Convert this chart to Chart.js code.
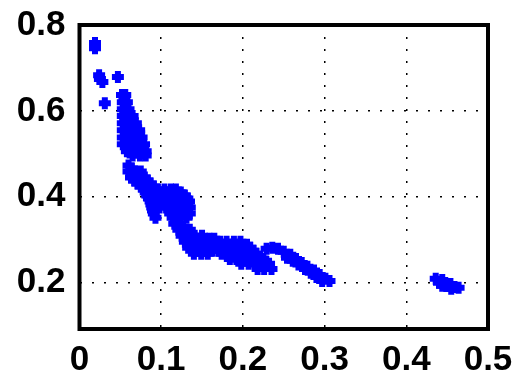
<!DOCTYPE html>
<html>
<head>
<meta charset="utf-8">
<script src="https://cdn.jsdelivr.net/npm/chart.js@4/dist/chart.umd.min.js"></script>
<style>
  html, body { margin: 0; padding: 0; background: #fff; }
  #wrap { width: 517px; height: 383px; }
</style>
</head>
<body>
<div id="wrap"><canvas id="chart"></canvas></div>
<script>
// axis ticks
const xTicks = [0, 0.1, 0.2, 0.3, 0.4, 0.5];
const yTicks = [0.2, 0.4, 0.6, 0.8];

// scattered points, [x, y]
const topPoints = [
  [0.019, 0.758], [0.019, 0.746],
  [0.024, 0.683], [0.025, 0.674], [0.028, 0.667],
  [0.047, 0.679],
  [0.031, 0.618],
];

const steepBand = [
  [0.052, 0.637], [0.056, 0.637], [0.055, 0.628],
  [0.053, 0.620], [0.058, 0.620],
  [0.053, 0.604], [0.060, 0.604], [0.056, 0.597],
  [0.053, 0.588], [0.059, 0.588], [0.065, 0.588],
  [0.056, 0.578], [0.064, 0.578],
  [0.053, 0.571], [0.060, 0.571], [0.069, 0.571],
  [0.057, 0.562], [0.066, 0.562],
  [0.053, 0.555], [0.062, 0.555], [0.073, 0.555],
  [0.057, 0.548], [0.066, 0.548], [0.073, 0.548],
  [0.053, 0.538], [0.062, 0.538], [0.069, 0.538], [0.076, 0.538],
  [0.057, 0.531], [0.066, 0.531], [0.074, 0.531],
  [0.053, 0.522], [0.062, 0.522], [0.070, 0.522], [0.079, 0.522],
  [0.060, 0.513], [0.070, 0.513], [0.078, 0.513],
  [0.058, 0.506], [0.067, 0.506], [0.075, 0.506], [0.081, 0.506],
  [0.065, 0.496], [0.074, 0.496], [0.081, 0.496],
];

const kneeBand = [
  [0.060, 0.473], [0.064, 0.466],
  [0.060, 0.459], [0.068, 0.459], [0.075, 0.459],
  [0.064, 0.452], [0.072, 0.452],
  [0.063, 0.445], [0.071, 0.445], [0.080, 0.445],
  [0.067, 0.438], [0.075, 0.438], [0.083, 0.438],
  [0.071, 0.431], [0.079, 0.431], [0.087, 0.431],
  [0.075, 0.424], [0.083, 0.424], [0.091, 0.424],
  [0.079, 0.417], [0.087, 0.417], [0.096, 0.417], [0.104, 0.417], [0.112, 0.417], [0.118, 0.417],
  [0.081, 0.410], [0.090, 0.410], [0.099, 0.410], [0.108, 0.410], [0.116, 0.410], [0.124, 0.410],
  [0.083, 0.403], [0.092, 0.403], [0.100, 0.403], [0.109, 0.403], [0.117, 0.403], [0.126, 0.403], [0.129, 0.403],
  [0.085, 0.396], [0.094, 0.396], [0.102, 0.396], [0.111, 0.396], [0.119, 0.396], [0.127, 0.396], [0.132, 0.396],
  [0.087, 0.389], [0.096, 0.389], [0.104, 0.389], [0.112, 0.389], [0.121, 0.389], [0.129, 0.389], [0.134, 0.389],
  [0.088, 0.382], [0.097, 0.382], [0.106, 0.382], [0.115, 0.382], [0.124, 0.382], [0.132, 0.382],
  [0.089, 0.375], [0.098, 0.375], [0.106, 0.375], [0.115, 0.375], [0.123, 0.375], [0.132, 0.375], [0.135, 0.375],
  [0.090, 0.368], [0.113, 0.368], [0.122, 0.368], [0.131, 0.368],
  [0.091, 0.361], [0.111, 0.361], [0.120, 0.361], [0.128, 0.361], [0.135, 0.361],
  [0.093, 0.351], [0.114, 0.351], [0.122, 0.351], [0.131, 0.351],
];

const lowerBand = [
  [0.116, 0.337], [0.123, 0.337],
  [0.121, 0.323], [0.128, 0.323], [0.135, 0.323],
  [0.125, 0.309], [0.133, 0.309], [0.141, 0.309], [0.150, 0.309],
  [0.133, 0.302], [0.142, 0.302], [0.150, 0.302], [0.159, 0.302], [0.165, 0.302],
  [0.129, 0.295], [0.138, 0.295], [0.146, 0.295], [0.155, 0.295], [0.163, 0.295],
  [0.172, 0.295], [0.180, 0.295], [0.189, 0.295], [0.197, 0.295],
  [0.137, 0.288], [0.146, 0.288], [0.154, 0.288], [0.163, 0.288], [0.171, 0.288],
  [0.180, 0.288], [0.188, 0.288], [0.197, 0.288], [0.205, 0.288],
  [0.133, 0.281], [0.141, 0.281], [0.150, 0.281], [0.158, 0.281], [0.167, 0.281],
  [0.175, 0.281], [0.184, 0.281], [0.192, 0.281], [0.201, 0.281], [0.209, 0.281],
  [0.145, 0.274], [0.154, 0.274], [0.163, 0.274], [0.171, 0.274], [0.179, 0.274],
  [0.188, 0.274], [0.196, 0.274], [0.205, 0.274], [0.213, 0.274],
  [0.140, 0.267], [0.149, 0.267], [0.157, 0.267], [0.174, 0.267], [0.183, 0.267],
  [0.191, 0.267], [0.200, 0.267], [0.208, 0.267], [0.216, 0.267],
  [0.188, 0.260], [0.196, 0.260], [0.205, 0.260], [0.213, 0.260], [0.221, 0.260],
  [0.184, 0.255], [0.192, 0.255], [0.201, 0.255], [0.209, 0.255], [0.218, 0.255], [0.225, 0.255],
  [0.211, 0.249], [0.220, 0.249], [0.228, 0.249],
  [0.198, 0.244], [0.207, 0.244], [0.215, 0.244], [0.224, 0.244], [0.232, 0.244],
  [0.218, 0.232], [0.226, 0.232], [0.235, 0.232],
];

const upperTail = [
  [0.229, 0.279], [0.236, 0.281], [0.243, 0.279], [0.250, 0.272], [0.258, 0.265],
  [0.265, 0.255], [0.272, 0.246], [0.279, 0.237], [0.287, 0.228], [0.294, 0.218],
  [0.301, 0.209], [0.306, 0.204],
  [0.254, 0.258], [0.261, 0.251], [0.268, 0.242], [0.276, 0.232], [0.283, 0.223],
  [0.290, 0.213], [0.297, 0.204],
];

const farCluster = [
  [0.436, 0.209], [0.444, 0.206], [0.444, 0.193], [0.440, 0.200],
  [0.454, 0.197], [0.449, 0.192], [0.455, 0.186], [0.459, 0.190], [0.464, 0.188],
];

const allPoints = [...topPoints, ...steepBand, ...kneeBand, ...lowerBand, ...upperTail, ...farCluster]
  .map(([x, y]) => ({ x, y }));

// box round the plot area, like the original axes frame
const frame = {
  id: 'frame',
  afterDatasetsDraw(chart) {
    const { ctx, chartArea: a } = chart;
    ctx.save();
    ctx.strokeStyle = '#000';
    ctx.lineWidth = 4;
    ctx.strokeRect(a.left, a.top, a.right - a.left, a.bottom - a.top);
    ctx.restore();
  },
};

const tickFont = { family: 'Liberation Sans', size: 35, weight: 'bold' };

new Chart(document.getElementById('chart'), {
  type: 'scatter',
  data: {
    datasets: [{
      data: allPoints,
      pointStyle: 'cross',
      pointRadius: 6,
      pointBorderWidth: 6,
      borderColor: '#0000ff',
      backgroundColor: '#0000ff',
    }],
  },
  options: {
    responsive: true,
    maintainAspectRatio: false,
    animation: false,
    events: [],
    layout: { padding: { top: 25, right: 29, left: 0, bottom: 0 } },
    plugins: { legend: { display: false }, tooltip: { enabled: false } },
    scales: {
      x: {
        type: 'linear',
        min: 0,
        max: 0.5,
        afterBuildTicks: (s) => { s.ticks = xTicks.map((v) => ({ value: v })); },
        afterFit: (s) => { s.height = 54; s.paddingLeft = 0; s.paddingRight = 0; },
        ticks: { color: '#000', font: tickFont, padding: 10, maxRotation: 0, autoSkip: false },
        grid: { color: '#000', lineWidth: 1.5, drawTicks: false },
        border: { display: false, dash: [2, 10] },
      },
      y: {
        type: 'linear',
        min: 0.092,
        max: 0.8,
        afterBuildTicks: (s) => { s.ticks = yTicks.map((v) => ({ value: v })); },
        afterFit: (s) => { s.width = 79.5; s.paddingTop = 0; s.paddingBottom = 0; },
        ticks: { color: '#000', font: tickFont, padding: 14, autoSkip: false },
        grid: { color: '#000', lineWidth: 1.5, drawTicks: false },
        border: { display: false, dash: [2, 10] },
      },
    },
  },
  plugins: [frame],
});
</script>
</body>
</html>
